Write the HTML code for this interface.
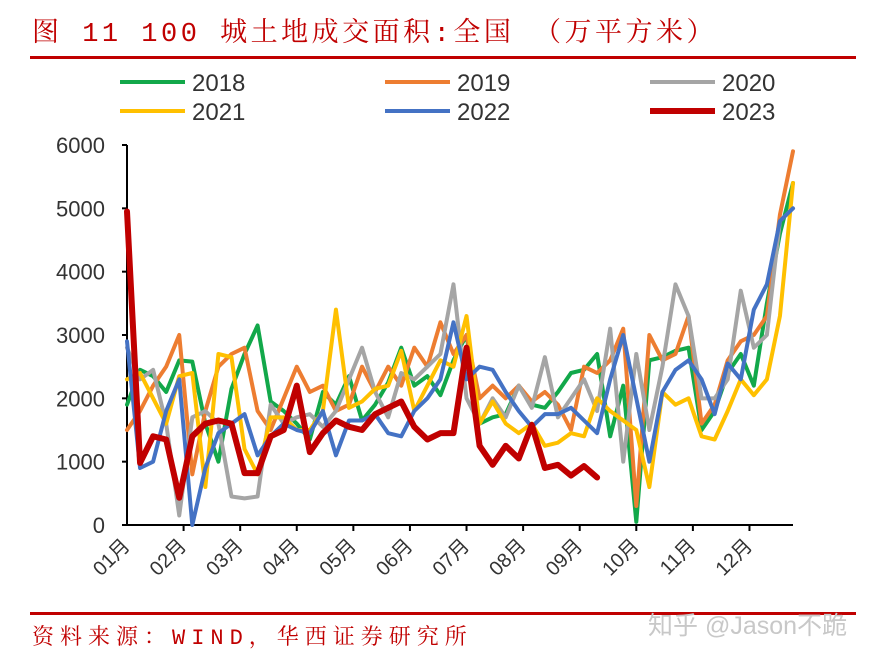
<!DOCTYPE html>
<html><head><meta charset="utf-8"><style>
body{margin:0;background:#fff;width:875px;height:659px;overflow:hidden;font-family:"Liberation Sans","Noto Sans CJK SC",sans-serif}
</style></head><body>
<svg width="875" height="659" style="position:absolute;left:0;top:0">
<text x="32" y="41" font-size="27" letter-spacing="3.5" fill="#c00000" font-family="Liberation Mono, Noto Serif CJK SC, serif">图 11 100 城土地成交面积:全国 （万平方米）</text>
<rect x="30" y="56" width="826" height="3" fill="#c00000"/>
<g id="legend"></g>
<g id="axes"></g>
<g id="series"></g>
<rect x="30" y="612" width="826" height="3" fill="#c00000"/>
<text x="32" y="644" font-size="22" letter-spacing="6" fill="#c00000" font-family="Liberation Mono, Noto Serif CJK SC, serif">资料来源：WIND，华西证券研究所</text>
<text x="648" y="634" font-size="25" fill="#c8c8c8">知乎 @Jason不跪</text>
</svg>
<script>
const seriesNames=["2018","2019","2020","2021","2022","2023"];
const colors=["#12a84a","#ed7d31","#a5a5a5","#ffc000","#4472c4","#c00000"];
const yTicks=[0,1000,2000,3000,4000,5000,6000];
const months=["01月","02月","03月","04月","05月","06月","07月","08月","09月","10月","11月","12月"];
const s2018=[1900,2450,2350,2100,2600,2580,1600,1000,2150,2700,3150,1950,1800,1600,1350,2100,1900,2350,1650,1900,2250,2800,2200,2350,2050,2600,3000,1600,1700,1750,2200,1900,1850,2100,2400,2450,2700,1400,2200,50,2600,2650,2750,2800,1500,1800,2400,2700,2200,3500,4600,5400];
const s2019=[1500,1800,2200,2500,3000,800,1800,2500,2700,2800,1800,1500,2000,2500,2100,2200,1800,1900,2500,2100,2500,2200,2800,2500,3200,2700,3000,2000,2200,2000,2200,1950,2100,1900,1500,2500,2400,2600,3100,300,3000,2600,2700,3300,1600,1900,2600,2900,3000,3300,4900,5900];
const s2020=[2800,2300,2450,1600,150,1700,1800,1600,450,420,450,1900,1600,1700,1750,1550,1800,2300,2800,2100,1700,2400,2300,2500,2700,3800,2000,1600,2000,1700,2200,1850,2650,1700,2000,2300,1800,3100,1000,2700,1500,2500,3800,3300,2000,2000,2300,3700,2800,3000,4800,5000];
const s2021=[2300,2400,2000,1600,2350,2400,600,2700,2650,1200,800,1700,1700,1500,1500,1800,3400,1850,1950,2150,2200,2750,1800,2200,2600,2500,3300,1600,1950,1600,1450,1600,1250,1300,1450,1400,2000,1800,1650,1500,600,2100,1900,2000,1400,1350,1800,2300,2050,2300,3300,5400];
const s2022=[2900,900,1000,1800,2300,0,900,1450,1600,1750,1100,1400,1600,1500,1450,1800,1100,1650,1650,1750,1450,1400,1800,2000,2300,3200,2300,2500,2450,2100,1800,1550,1750,1750,1850,1650,1450,2300,3000,2000,1000,2100,2450,2600,2300,1750,2550,2300,3400,3800,4800,5000];
const s2023=[4950,980,1400,1350,430,1400,1600,1650,1600,820,820,1400,1500,2200,1150,1450,1650,1550,1500,1750,1850,1950,1550,1350,1450,1450,2800,1250,950,1250,1050,1580,900,950,780,930,750];
const allSeries=[s2018,s2019,s2020,s2021,s2022,s2023];
const NS="http://www.w3.org/2000/svg";
const X0=127,X1=793,Y0=525,YT=145,NW=52;
const xs=i=>X0+i*(X1-X0)/(NW-1);
const ys=v=>Y0-(v/6000)*(Y0-YT);
function mk(t,a,p){const e=document.createElementNS(NS,t);for(const k in a)e.setAttribute(k,a[k]);p.appendChild(e);return e;}
const ax=document.getElementById('axes');
let l=mk('line',{x1:X0,y1:YT,x2:X0,y2:Y0,stroke:'#000','stroke-width':2},ax);


l=mk('line',{x1:X0,y1:Y0,x2:X1,y2:Y0,stroke:'#000','stroke-width':2},ax);


yTicks.forEach(v=>{
 const t=mk('line',{x1:X0-5,y1:ys(v),x2:X0,y2:ys(v),stroke:'#000','stroke-width':2},ax);
 
 
 const tx=mk('text',{x:105,y:ys(v)+8,'text-anchor':'end','font-size':22,fill:'#333'},ax);
 tx.textContent=v;
 
 
});
const mstep=(X1-X0)/51*52/12;
months.forEach((m,i)=>{
 const x=X0+i*mstep;
 if(i>0){const t=mk('line',{x1:x,y1:Y0,x2:x,y2:Y0+6,stroke:'#000','stroke-width':2},ax);
 
 }
 const tx=mk('text',{x:x+4,y:Y0+22,'text-anchor':'end','font-size':20,fill:'#333',transform:`rotate(-45 ${x+4} ${Y0+22})`},ax);
 tx.textContent=m;
 
 
});
const sg=document.getElementById('series');
allSeries.forEach((s,k)=>{
 const p=mk('polyline',{points:s.map((v,i)=>xs(i)+','+ys(v)).join(' '),fill:'none',stroke:colors[k],'stroke-width':k==5?6:4,'stroke-linejoin':'round','stroke-linecap':'round'},sg);
 
 
});
const lg=document.getElementById('legend');
const lx=[120,385,650],ly=[82,111];
seriesNames.forEach((n,k)=>{
 const x=lx[k%3],y=ly[Math.floor(k/3)];
 const ln=mk('line',{x1:x,y1:y,x2:x+65,y2:y,stroke:colors[k],'stroke-width':k==5?6:4},lg);
 
 
 const t=mk('text',{x:x+72,y:y+9,'font-size':24,fill:'#333'},lg);
 t.textContent=n;
 
 
});
</script>
</body></html>
